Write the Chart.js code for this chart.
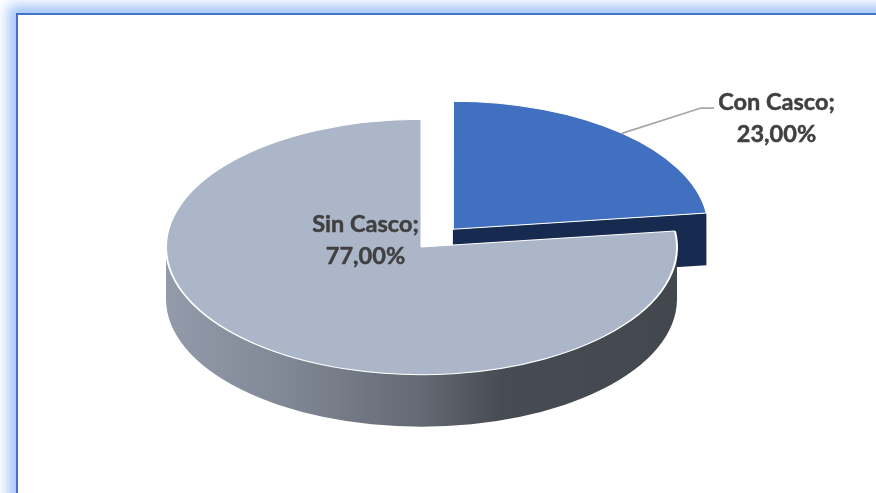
<!DOCTYPE html>
<html>
<head>
<meta charset="utf-8">
<style>
  html, body { margin: 0; padding: 0; background: #fff; overflow: hidden; }
  #stage { position: relative; width: 876px; height: 493px; overflow: hidden; }
  #frame {
    position: absolute; left: 15.5px; top: 12.5px; width: 1000px; height: 800px;
    border: 2px solid #4472c4; background: #fff;
    box-shadow: 0 0 12px 8px #a6c6f8;
  }
  canvas { position: absolute; left: 0; top: 0; }
</style>
<script src="https://cdn.jsdelivr.net/npm/chart.js@4"></script>
</head>
<body>
<div id="stage">
  <div id="frame"></div>
  <canvas id="chart" width="876" height="493"></canvas>
</div>
<script>
const categories = ["Con Casco", "Sin Casco"];
const values = [23, 77];
const percentLabels = ["23,00%", "77,00%"];
const sliceColors = ["#4070bf", "#abb7c8"];

const TILT = 0.5;      // vertical squash of the disc
const DEPTH = 52;      // height of the disc wall in pixels
const LABEL_FONT = "bold 23.5px Lato, 'Open Sans', sans-serif";

// where the slice sits after its offset, in flat (unsquashed) coordinates
function sliceCenter(arc) {
  const mid = (arc.startAngle + arc.endAngle) / 2;
  const shift = (arc.options.offset || 0) / 4;
  return { x: arc.x + Math.cos(mid) * shift, y: arc.y + Math.sin(mid) * shift };
}

function screenY(arc, flatY) {
  return arc.y + (flatY - arc.y) * TILT;
}

function drawLabel(ctx, text, x, y) {
  ctx.strokeText(text, x, y);
  ctx.fillText(text, x, y);
}

// squashes the pie and draws the side walls under it
const discPlugin = {
  id: "disc",
  beforeDatasetsDraw(chart) {
    const ctx = chart.ctx;
    const arcs = chart.getDatasetMeta(0).data;
    const blue = arcs[0];
    const gray = arcs[1];

    // cut face of the exploded slice
    const c = sliceCenter(blue);
    const cy = screenY(blue, c.y);
    const r = blue.outerRadius;
    const ex = c.x + Math.cos(blue.endAngle) * r;
    const ey = cy + Math.sin(blue.endAngle) * r * TILT;
    ctx.save();
    ctx.fillStyle = "#172a4f";
    ctx.beginPath();
    ctx.moveTo(c.x, cy);
    ctx.lineTo(ex, ey);
    ctx.lineTo(ex, ey + DEPTH);
    ctx.lineTo(c.x, cy + DEPTH);
    ctx.closePath();
    ctx.fill();

    // front wall of the large slice
    const rx = gray.outerRadius;
    const ry = rx * TILT;
    const grad = ctx.createLinearGradient(gray.x - rx, 0, gray.x + rx, 0);
    grad.addColorStop(0, "#939bab");
    grad.addColorStop(0.25, "#7f8693");
    grad.addColorStop(0.5, "#646973");
    grad.addColorStop(0.66, "#474b53");
    grad.addColorStop(1, "#43474e");
    ctx.fillStyle = grad;
    ctx.beginPath();
    ctx.ellipse(gray.x, gray.y, rx, ry, 0, 0, Math.PI);
    ctx.ellipse(gray.x, gray.y + DEPTH, rx, ry, 0, Math.PI, 0, true);
    ctx.closePath();
    ctx.fill();
    ctx.restore();

    ctx.save();
    ctx.translate(0, blue.y);
    ctx.scale(1, TILT);
    ctx.translate(0, -blue.y);
  },
  afterDatasetsDraw(chart) {
    chart.ctx.restore();
  },
  afterDraw(chart) {
    const ctx = chart.ctx;
    const arcs = chart.getDatasetMeta(0).data;
    const blue = arcs[0];

    // leader line from the exploded slice to its label
    const c = sliceCenter(blue);
    const mid = (blue.startAngle + blue.endAngle) / 2;
    ctx.save();
    ctx.strokeStyle = "#a6a6a6";
    ctx.lineWidth = 1.75;
    ctx.beginPath();
    ctx.moveTo(c.x + Math.cos(mid) * blue.outerRadius, screenY(blue, c.y) + Math.sin(mid) * blue.outerRadius * TILT);
    ctx.lineTo(701, 108);
    ctx.lineTo(714, 108);
    ctx.stroke();

    ctx.fillStyle = "#404040";
    ctx.strokeStyle = "#404040";
    ctx.lineWidth = 0.5;
    ctx.font = LABEL_FONT;
    ctx.textAlign = "center";
    ctx.textBaseline = "alphabetic";
    drawLabel(ctx, categories[0] + ";", 776.5, 110);
    drawLabel(ctx, percentLabels[0], 776.5, 142);
    drawLabel(ctx, categories[1] + ";", 365.5, 232);
    drawLabel(ctx, percentLabels[1], 365.5, 264);
    ctx.restore();
  }
};

new Chart(document.getElementById("chart"), {
  type: "pie",
  data: {
    labels: categories,
    datasets: [{
      data: values,
      backgroundColor: sliceColors,
      borderColor: "#ffffff",
      borderWidth: 2,
      offset: [190, 0],
      clip: false
    }]
  },
  options: {
    responsive: false,
    animation: false,
    events: [],
    radius: 255.5,
    layout: { padding: { top: 1, right: 33 } },
    plugins: {
      legend: { display: false },
      tooltip: { enabled: false }
    }
  },
  plugins: [discPlugin]
});
</script>
</body>
</html>
